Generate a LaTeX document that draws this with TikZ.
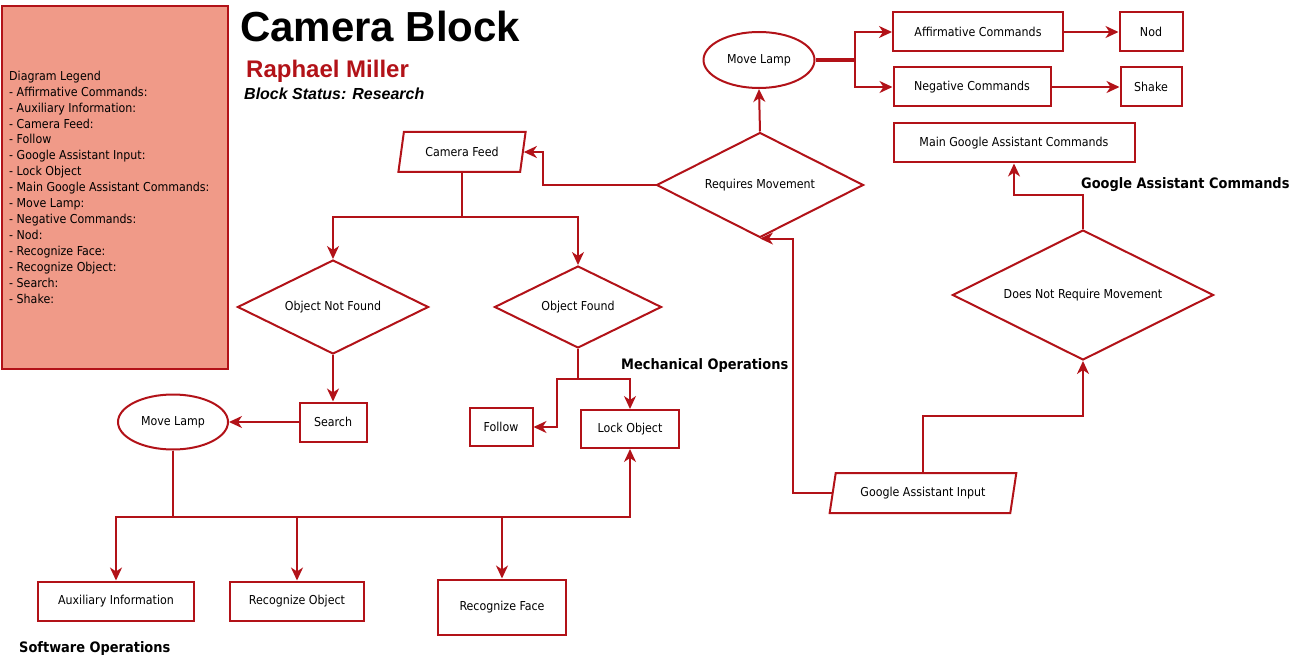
\documentclass[tikz,border=0pt]{standalone}
\usepackage{fontspec}
\setmainfont{DejaVu Sans Condensed}
\newfontfamily\headfont{Liberation Sans}
\usepackage{tikz}
\usetikzlibrary{shapes.geometric,arrows.meta}
\usepackage{xcolor}
\definecolor{blockred}{RGB}{178,18,24}
\definecolor{legendpink}{RGB}{240,154,136}

\begin{document}
\begin{tikzpicture}[x=1pt,y=-1pt,
  every node/.style={inner sep=0pt, font=\fontsize{12.3}{14}\selectfont},
  box/.style={rectangle, draw=blockred, line width=2pt, minimum width=#1, minimum height=39pt},
  decision/.style args={#1/#2}{diamond, aspect=2, draw=blockred, line width=2pt, minimum width=#1, minimum height=#2},
  lamp/.style args={#1/#2}{ellipse, draw=blockred, line width=2pt, minimum width=#1, minimum height=#2},
  io/.style={trapezium, trapezium left angle=70, trapezium right angle=110, trapezium stretches=true, draw=blockred, line width=2pt, minimum width=#1, minimum height=40pt},
  arr/.style={draw=blockred, line width=2pt, -{Stealth[length=13pt,width=12pt,inset=4pt]}},
  section/.style={anchor=west, font=\bfseries\fontsize{14.4}{16}\selectfont}]
  \useasboundingbox (0,0) rectangle (1291,658);

  % legend
  \node[draw=blockred, fill=legendpink, line width=2pt, minimum width=226pt, minimum height=363pt, anchor=north west] (legend) at (1,5) {};
  \foreach \entry [count=\i] in {Diagram Legend, - Affirmative Commands:, - Auxiliary Information:, - Camera Feed:, - Follow, - Google Assistant Input:, - Lock Object, - Main Google Assistant Commands:, - Move Lamp:, - Negative Commands:, - Nod:, - Recognize Face:, - Recognize Object:, - Search:, - Shake:}
    \node[anchor=base west] (leg\i) at (9,64.5+15.9*\i) {\entry};

  % heading
  \node[anchor=base west, font=\headfont\bfseries\fontsize{42}{46}\selectfont] (title) at (240,42) {Camera Block};
  \node[anchor=base west, text=blockred, font=\headfont\bfseries\fontsize{24}{28}\selectfont] (author) at (246,78) {Raphael Miller};
  \node[anchor=base west, font=\headfont\bfseries\itshape\fontsize{16}{19}\selectfont] (status) at (244,100) {Block Status: Research};

  % blocks
  \node[io=128] (feed) at (462,152) {Camera Feed};
  \node[decision=207/105] (needmove) at (760,185) {Requires Movement};
  \node[lamp=111/56] (lamptop) at (759,60) {Move Lamp};
  \node[box=170] (affirm) at (978,32) {Affirmative Commands};
  \node[box=63] (nod) at (1151,32) {Nod};
  \node[box=157] (negate) at (972,87) {Negative Commands};
  \node[box=61] (shake) at (1151,87) {Shake};
  \node[box=241] (gacmds) at (1014,143) {Main Google Assistant Commands};
  \node[decision=261/130] (nomove) at (1083,295) {Does Not Require Movement};
  \node[io=187] (gainput) at (923,493) {Google Assistant Input};
  \node[decision=191/94] (notfound) at (333,307) {Object Not Found};
  \node[decision=167/82] (found) at (578,307) {Object Found};
  \node[box=67] (search) at (333,422) {Search};
  \node[lamp=110/55] (lampbot) at (173,422) {Move Lamp};
  \node[box=63, minimum height=38pt] (follow) at (501,427) {Follow};
  \node[box=98, minimum height=38pt] (lock) at (630,429) {Lock Object};
  \node[box=156] (aux) at (116,601) {Auxiliary Information};
  \node[box=134] (recobj) at (297,601) {Recognize Object};
  \node[box=128, minimum height=55pt] (recface) at (502,607) {Recognize Face};

  % group labels
  \node[section] (mechlabel) at (621,366) {Mechanical Operations};
  \node[section] (galabel) at (1081,185) {Google Assistant Commands};
  \node[section] (softlabel) at (19,649) {Software Operations};

  % connectors
  \draw[arr] (needmove.west) -- ++(-113,0) |- (feed.east);
  \draw[arr] (needmove.north) -- (lamptop.south);
  \draw[blockred, line width=3.6pt] (lamptop.east) -- ++(39,0);
  \draw[arr] (lamptop.east) -- ++(39,0) |- (affirm.west);
  \draw[arr] (lamptop.east) -- ++(39,0) |- (negate.west);
  \draw[arr] (affirm.east) -- (nod.west);
  \draw[arr] (negate.east) -- (shake.west);
  \draw[arr] (nomove.north) -- ++(0,-34) -| (gacmds.south);
  \draw[arr] (gainput.north) -- ++(0,-56) -| (nomove.south);
  \draw[arr] (gainput.west) -- ++(-39,0) |- (needmove.south);
  \draw[arr] (feed.south) -- ++(0,44) -| (notfound.north);
  \draw[arr] (feed.south) -- ++(0,44) -| (found.north);
  \draw[arr] (notfound.south) -- (search.north);
  \draw[arr] (search.west) -- (lampbot.east);
  \draw[arr] (found.south) |- ++(-21,30) |- (follow.east);
  \draw[arr] (found.south) -- ++(0,30) -| (lock.north);
  \draw[arr] (lampbot.south) -- ++(0,66) -| (aux.north);
  \draw[arr] (lampbot.south) -- ++(0,66) -| (recobj.north);
  \draw[arr] (lampbot.south) -- ++(0,66) -| (recface.north);
  \draw[arr] (lampbot.south) -- ++(0,66) -| (lock.south);
\end{tikzpicture}
\end{document}
